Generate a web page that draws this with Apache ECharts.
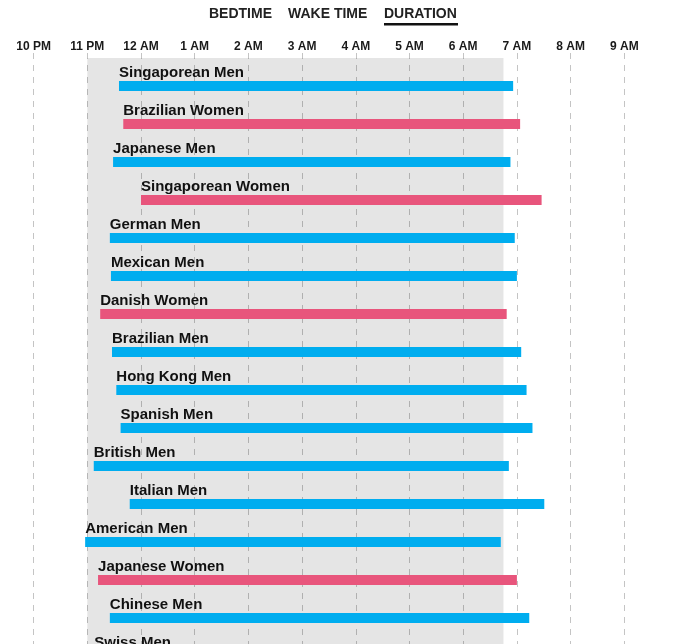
<!DOCTYPE html>
<html>
<head>
<meta charset="utf-8">
<script src="https://cdn.jsdelivr.net/npm/echarts@6/dist/echarts.min.js"></script>
<style>
html,body{margin:0;padding:0;background:#fff;}
#c{width:677px;height:644px;}
</style>
</head>
<body>
<div id="c"></div>
<script>
// Hours counted from midnight of the previous day: 22 = 10 PM, 24 = 12 AM, 31 = 7 AM
var groups = ['Singaporean Men','Brazilian Women','Japanese Men','Singaporean Women','German Men','Mexican Men','Danish Women','Brazilian Men','Hong Kong Men','Spanish Men','British Men','Italian Men','American Men','Japanese Women','Chinese Men','Swiss Men'];
var gender = ['M','W','M','W','M','M','W','M','M','M','M','M','M','W','M','M'];
var bedtime = [23.59,23.67,23.48,24.00,23.42,23.44,23.24,23.46,23.54,23.62,23.12,23.79,22.96,23.20,23.42,23.13];
var waketime = [30.93,31.06,30.88,31.46,30.96,31.00,30.81,31.08,31.18,31.29,30.85,31.51,30.70,31.00,31.23,31.00];
var tickHours = [22,23,24,25,26,27,28,29,30,31,32,33];
var tickLabels = ['10 PM','11 PM','12 AM','1 AM','2 AM','3 AM','4 AM','5 AM','6 AM','7 AM','8 AM','9 AM'];
var bandRange = [23, 30.75];
var tabs = ['BEDTIME','WAKE TIME','DURATION'];

var colors = {M:'#00adef', W:'#e8557c'};
var rowPx = 38, gridTop = 53, gridH = 700, firstRowPx = 86;
var yMin = -(firstRowPx - gridTop) / rowPx;
var yMax = yMin + gridH / rowPx;
var bandTop = yMin + 5 / rowPx;

var data = groups.map(function(g, i){ return [bedtime[i], waketime[i], i]; });

var chart = echarts.init(document.getElementById('c'), null, {renderer:'canvas'});
chart.setOption({
  animation:false,
  grid:{left:33.6, width:644.4, top:gridTop, height:gridH, containLabel:false, outerBoundsMode:'none'},
  xAxis:{
    type:'value', position:'top', min:22, max:34, interval:1,
    axisLine:{show:false}, axisTick:{show:false},
    axisLabel:{
      margin:0, color:'#1a1a1a', fontSize:12, fontWeight:'bold', fontFamily:'Liberation Sans, Arial, sans-serif',
      formatter:function(v){ var k = tickHours.indexOf(v); return k >= 0 ? tickLabels[k] : ''; }
    },
    splitLine:{show:true, lineStyle:{color:'#c4c4c4', width:1, type:[6,6]}}
  },
  yAxis:{type:'value', inverse:true, min:yMin, max:yMax, show:false, splitLine:{show:false}},
  graphic:[
    {type:'text', left:209, top:7, style:{text:tabs[0], fill:'#222', font:'bold 14px "Liberation Sans", Arial, sans-serif'}},
    {type:'text', left:288, top:7, style:{text:tabs[1], fill:'#222', font:'bold 14px "Liberation Sans", Arial, sans-serif'}},
    {type:'text', left:384, top:7, style:{text:tabs[2], fill:'#222', font:'bold 14px "Liberation Sans", Arial, sans-serif'}},
    {type:'rect', left:384, top:23, shape:{width:74, height:2.5}, style:{fill:'#111'}}
  ],
  series:[
    {
      type:'line', data:[], z:1, silent:true,
      markArea:{silent:true, itemStyle:{color:'rgba(0,0,0,0.1)'},
        data:[[{xAxis:bandRange[0], yAxis:bandTop},{xAxis:bandRange[1], yAxis:yMax}]]}
    },
    {
      type:'custom', z:3, clip:false,
      data:data,
      renderItem:function(params, api){
        var i = api.value(2);
        var p0 = api.coord([api.value(0), i]);
        var p1 = api.coord([api.value(1), i]);
        var h = 10;
        return {
          type:'group',
          children:[
            {type:'rect', shape:{x:p0[0], y:p0[1]-h/2, width:p1[0]-p0[0], height:h},
             style:{fill:colors[gender[i]]}},
            {type:'text', style:{text:groups[i], x:p0[0], y:p0[1]-13.5, fill:'#111',
             font:'bold 15px "Liberation Sans", Arial, sans-serif', align:'left', verticalAlign:'middle'}}
          ]
        };
      }
    }
  ]
});
</script>
</body>
</html>
